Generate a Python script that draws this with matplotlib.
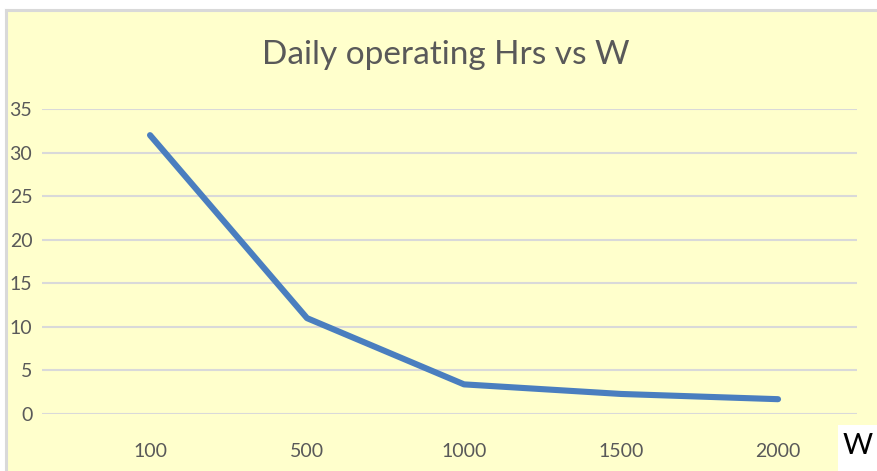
import numpy as np
import matplotlib.pyplot as plt
from matplotlib.patches import Rectangle

# данные с графика
watts = ['100', '500', '1000', '1500', '2000']
hours = [32.0, 11.0, 3.4, 2.3, 1.7]
y_ticks = [0, 5, 10, 15, 20, 25, 30, 35]

FONT = ['Lato', 'DejaVu Sans']

W, H = 878, 471
fig = plt.figure(figsize=(W / 100, H / 100), dpi=100)
fig.patch.set_facecolor('white')

# жёлтый фон области диаграммы с серой рамкой сверху и слева
bg = Rectangle((6 / W, 0), 1 - 6 / W, 1 - 10 / H, transform=fig.transFigure,
               facecolor='#FFFFCC', edgecolor='none', zorder=-2)
fig.patches.append(bg)
fig.add_artist(plt.Line2D([6 / W, 1], [1 - 10 / H] * 2, color='#D9D9D9', lw=2.2,
                          transform=fig.transFigure, zorder=-1))
fig.add_artist(plt.Line2D([6 / W] * 2, [0, 1 - 10 / H], color='#D9D9D9', lw=2.2,
                          transform=fig.transFigure, zorder=-1))

left, right = 42 / W, 857 / W
bottom, top = 1 - 414 / H, 1 - 109 / H
ax = fig.add_axes([left, bottom, right - left, top - bottom])
ax.set_facecolor('none')

x = np.arange(len(watts))
ax.plot(x, hours, color='#4A7EBF', lw=4.4, solid_capstyle='round',
        solid_joinstyle='round', zorder=3)

ax.set_xlim(-0.688, 4.503)
ax.set_ylim(0, 35)
ax.set_yticks(y_ticks)
ax.set_xticks(x)
ax.set_xticklabels(watts)
ax.grid(axis='y', color='#D9D9D9', lw=1.5)
ax.set_axisbelow(True)
for s in ax.spines.values():
    s.set_visible(False)
ax.tick_params(length=0, labelsize=14, labelcolor='#595959')
ax.tick_params(axis='y', pad=7)
ax.tick_params(axis='x', pad=21)
for lab in ax.get_xticklabels() + ax.get_yticklabels():
    lab.set_family(FONT)

fig.text(446 / W, 1 - 55 / H, 'Daily operating Hrs vs W', ha='center', va='center',
         fontsize=24, color='#595959', family=FONT)

# белая плашка с подписью W
fig.patches.append(Rectangle((838 / W, 0), 40 / W, 46 / H, transform=fig.transFigure,
                             facecolor='white', edgecolor='none', zorder=1))
fig.text(858 / W, 1 - 446 / H, 'W', ha='center', va='center', fontsize=21,
         color='black', family=FONT)

plt.savefig('out.png', dpi=100)
